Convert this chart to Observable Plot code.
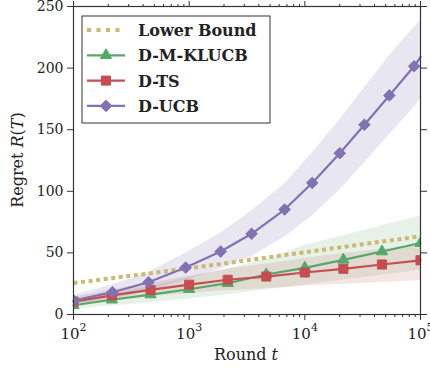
<!DOCTYPE html>
<html><head><meta charset="utf-8">
<script src="https://cdn.jsdelivr.net/npm/d3@7"></script>
<script src="https://cdn.jsdelivr.net/npm/@observablehq/plot@0.6"></script>
<style>body{margin:0;background:#fff}</style>
</head><body><div id="chart"></div>
<script>
// Lower bound
const lbRounds = [100, 1000, 10000, 100000];
const lbRegret = [25.5, 37.5, 50.5, 63.5];

// Shared round grid for D-M-KLUCB and D-TS
const rounds = [100, 215, 464, 1000, 2154, 4642, 10000, 21544, 46416, 100000];
const klucbMean = [7.5, 12, 16.2, 20.5, 25.4, 32.5, 37.9, 44.4, 51.1, 58];
const klucbLo   = [4.5, 7, 9.5, 12.5, 16, 20, 24, 28, 32, 36];
const klucbHi   = [10.5, 17, 23, 30, 37, 45, 56, 64, 72, 80];
const tsMean = [10.5, 15.5, 20, 24.2, 28.2, 30.8, 34.1, 37.1, 40.6, 44];
const tsLo   = [7, 11, 14.5, 17, 19.5, 21, 23, 24.5, 26, 27.5];
const tsHi   = [14, 20, 25.5, 31, 37, 41, 45.5, 49.5, 53, 56];

// D-UCB
const ucbRounds = [100, 217, 445, 933, 1871, 3467, 6683, 11588, 20050, 32740, 53830, 88100, 100000];
const ucbMean = [11.4, 18.1, 26.2, 38.1, 51.1, 65.5, 85.2, 106.8, 130.9, 154, 177.8, 201.5, 209];
const ucbLo   = [7.5, 12.5, 19, 27.5, 37, 47, 63, 80, 101, 123, 146, 168, 175];
const ucbHi   = [15.5, 24, 34, 50, 66, 84, 106, 131, 158, 184, 210, 233, 239];

const xTicks = [100, 1000, 10000, 100000];
const xMinorTicks = [200,300,400,500,600,700,800,900,2000,3000,4000,5000,6000,7000,8000,9000,20000,30000,40000,50000,60000,70000,80000,90000];
const yTicks = [0, 50, 100, 150, 200, 250];
const legendLabels = ["Lower Bound", "D-M-KLUCB", "D-TS", "D-UCB"];
const xLabel = ["Round ", "t"];
const yLabel = ["Regret ", "R", "(", "T", ")"];

const tan = "#ccb974", green = "#55a868", red = "#c44e52", purple = "#8172b2";
const ink = "#333";

const mk = (T, m, lo, hi) => T.map((t, i) => ({T: t, y: m[i], lo: lo ? lo[i] : null, hi: hi ? hi[i] : null}));
const lb = mk(lbRounds, lbRegret);
const klucb = mk(rounds, klucbMean, klucbLo, klucbHi);
const ts = mk(rounds, tsMean, tsLo, tsHi);
const ucb = mk(ucbRounds, ucbMean, ucbLo, ucbHi);
const ucbMarked = ucb.filter(d => d.T < 100000);

const plot = Plot.plot({
  width: 430, height: 369,
  marginLeft: 73, marginRight: 10, marginTop: 6, marginBottom: 55,
  style: {fontFamily: "'DejaVu Serif', serif", fontSize: "15px", color: "#222", background: "#fff"},
  x: {type: "log", domain: [100, 100000]},
  y: {domain: [0, 250]},
  marks: [
    Plot.areaY(klucb, {x: "T", y1: "lo", y2: "hi", fill: green, fillOpacity: 0.15}),
    Plot.areaY(ts, {x: "T", y1: "lo", y2: "hi", fill: red, fillOpacity: 0.15}),
    Plot.areaY(ucb, {x: "T", y1: "lo", y2: "hi", fill: purple, fillOpacity: 0.18}),
    Plot.line(lb, {x: "T", y: "y", stroke: tan, strokeWidth: 4, strokeDasharray: "4,3.6", strokeLinecap: "butt"}),
    Plot.line(klucb, {x: "T", y: "y", stroke: green, strokeWidth: 2.2}),
    Plot.dot(klucb, {x: "T", y: "y", symbol: "triangle", fill: green, stroke: green, strokeWidth: 1, r: 4.2, clip: true}),
    Plot.line(ts, {x: "T", y: "y", stroke: red, strokeWidth: 2.2}),
    Plot.dot(ts, {x: "T", y: "y", symbol: "square", fill: red, stroke: red, strokeWidth: 1, r: 5.1, clip: true}),
    Plot.line(ucb, {x: "T", y: "y", stroke: purple, strokeWidth: 2.2}),
    Plot.dot(ucbMarked, {x: "T", y: "y", symbol: "diamond2", fill: purple, stroke: purple, strokeWidth: 1, r: 5.2, clip: true}),
    Plot.frame({stroke: ink, strokeWidth: 1.2}),
    Plot.axisY(yTicks, {anchor: "left", tickSize: 6, tickPadding: 4, stroke: ink, label: null, fontSize: 14}),
    Plot.axisY(yTicks, {anchor: "right", tickSize: 6, stroke: ink, fill: "none", label: null}),
    Plot.axisX(xTicks, {anchor: "bottom", tickSize: 6, tickPadding: 8, stroke: ink, label: null,
      tickFormat: d => "10^" + Math.round(Math.log10(d))}),
    Plot.axisX(xMinorTicks, {anchor: "bottom", tickSize: 3, stroke: ink, fill: "none", label: null}),
    Plot.axisX(xTicks, {anchor: "top", tickSize: 6, stroke: ink, fill: "none", label: null}),
    Plot.axisX(xMinorTicks, {anchor: "top", tickSize: 3, stroke: ink, fill: "none", label: null})
  ]
});

document.getElementById("chart").appendChild(plot);
const svg = d3.select(plot);

// superscripts on x tick labels
svg.selectAll('g[aria-label="x-axis tick label"] text').each(function() {
  const parts = this.textContent.split("^");
  this.textContent = parts[0];
  d3.select(this).append("tspan").attr("dy", "-8").attr("font-size", "11px").text(parts[1]);
});

// axis titles
const xl = svg.append("text").attr("x", 246).attr("y", 360).attr("text-anchor", "middle")
  .attr("font-size", 16).attr("fill", "#222");
xl.append("tspan").text(xLabel[0]);
xl.append("tspan").attr("font-style", "italic").text(xLabel[1]);

const yl = svg.append("text").attr("transform", "translate(23,160) rotate(-90)").attr("text-anchor", "middle")
  .attr("font-size", 16).attr("fill", "#222");
yLabel.forEach((s, i) => yl.append("tspan").attr("font-style", (i === 1 || i === 3) ? "italic" : null).text(s));

// legend
const lg = svg.append("g");
lg.append("rect").attr("x", 82).attr("y", 16).attr("width", 188).attr("height", 107)
  .attr("fill", "#fff").attr("fill-opacity", 0.9).attr("stroke", ink).attr("stroke-width", 1);
const entries = [
  {color: tan, dash: true},
  {color: green, sym: d3.symbolTriangle, r: 4.2},
  {color: red, sym: d3.symbolSquare, r: 5.1},
  {color: purple, sym: d3.symbolDiamond2, r: 5.2}
];
entries.forEach((e, i) => {
  const cy = 30 + i * 25.3;
  lg.append("line").attr("x1", 87).attr("x2", 125).attr("y1", cy).attr("y2", cy)
    .attr("stroke", e.color).attr("stroke-width", e.dash ? 4 : 2.2)
    .attr("stroke-dasharray", e.dash ? "4,5.5" : null);
  if (e.sym) {
    lg.append("path").attr("transform", `translate(106,${cy})`)
      .attr("d", d3.symbol().type(e.sym).size(Math.PI * e.r * e.r)())
      .attr("fill", e.color).attr("stroke", e.color).attr("stroke-width", 1);
  }
  lg.append("text").attr("x", 138).attr("y", cy + 6).attr("text-anchor", "start")
    .attr("font-size", 16).attr("font-weight", "bold")
    .attr("fill", "#222").text(legendLabels[i]);
});
</script>
</body></html>
